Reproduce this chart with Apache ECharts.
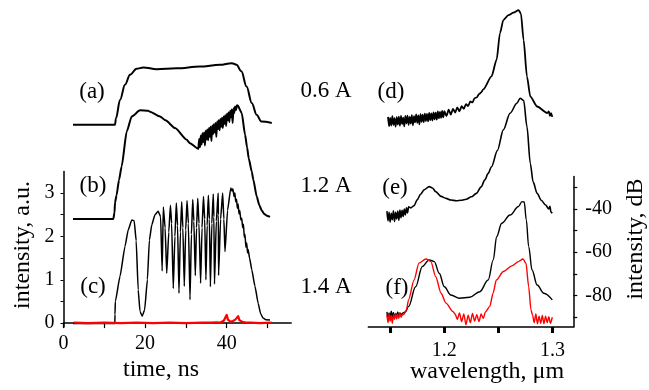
<!DOCTYPE html>
<html>
<head>
<meta charset="utf-8">
<script src="https://cdn.jsdelivr.net/npm/echarts@6/dist/echarts.min.js"></script>
<style>html,body{margin:0;padding:0;background:#fff}#c{width:649px;height:390px}</style>
</head>
<body>
<div id="c"></div>
<script>
// ---- time-domain traces (time ns, intensity a.u. with vertical offsets as drawn) ----
const traceA = [[2.33,4.58],[12.62,4.58],[12.87,4.73],[13.85,5.15],[15.07,5.50],[16.3,5.73],[17.91,5.87],[19.58,5.90],[22.81,5.86],[27.71,5.88],[33.45,5.92],[38.35,5.96],[41.24,6.0],[42.41,5.96],[43.59,5.81],[44.86,5.46],[46.14,5.08],[47.31,4.81],[48.49,4.65],[51.04,4.62]];
const traceB = [[2.33,2.40],[12.2,2.40],[12.5,2.55],[12.62,2.78],[13.0,2.95],[13.6,3.3],[14.26,3.62],[15.49,4.42],[16.72,4.77],[18.75,4.91],[20.78,4.90],[21.2,4.88],[23.65,4.77],[25.0,4.68],[27.33,4.5],[30.2,4.23],[31.0,4.15],[33.04,4.02],
 [33.25,4.25],[33.45,4.06],[33.65,4.33],[33.85,4.12],[34.05,4.38],[34.25,4.18],[34.45,4.4],[34.65,4.1],[34.85,4.44],[35.05,4.24],[35.25,4.47],[35.45,4.22],[35.65,4.5],[35.85,4.3],[36.05,4.53],[36.25,4.2],[36.45,4.56],[36.65,4.36],[36.85,4.59],[37.05,4.4],[37.25,4.62],[37.45,4.3],[37.65,4.65],[37.85,4.48],[38.05,4.68],[38.25,4.45],[38.45,4.71],[38.65,4.53],[38.85,4.74],[39.05,4.5],[39.25,4.77],[39.45,4.6],[39.65,4.8],[39.85,4.55],[40.05,4.83],[40.25,4.68],[40.45,4.86],[40.65,4.64],[40.85,4.9],[41.05,4.75],[41.25,4.93],[41.45,4.62],[41.65,4.96],[41.85,4.85],[42.05,5.0],[42.3,4.92],[42.5,5.03],[42.7,5.02],
 [43.68,4.85],[44.49,4.35],[45.0,4.05],[45.4,3.8],[46.13,3.5],[46.52,3.31],[47.35,2.92],[48.0,2.72],[48.58,2.6],[49.2,2.52],[49.8,2.48],[50.61,2.45]];
const traceC = [[2.33,-0.01],[12.58,-0.01],[12.62,0.2],[12.7,0.5],[13.85,1.08],[15.07,1.77],[15.85,2.15],[16.74,2.38],[17.32,2.36],[17.81,1.9],[18.3,0.77],[18.75,0.27],[19.28,0.16],[19.87,0.3],[20.56,1.0],[21.05,1.92],[21.64,2.27],[22.42,2.5],[23.2,2.58],[23.79,2.46],[24.18,1.2],
 [24.46,2.68],[24.9,2.2],[25.3,1.15],[25.8,2.1],[26.2,2.72],[26.5,2.3],[26.9,0.8],[27.3,2.0],[27.65,2.77],[27.95,2.25],[28.3,0.69],[28.65,2.1],[28.97,2.8],[29.25,2.2],[29.6,0.85],[29.95,2.15],[30.27,2.83],[30.6,2.3],[31.0,0.54],[31.35,2.05],[31.67,2.85],[31.95,2.35],[32.3,1.1],[32.6,2.2],[32.9,2.88],[33.2,2.3],[33.6,0.92],[33.95,2.2],[34.3,2.92],[34.6,2.4],[34.9,1.0],[35.2,2.25],[35.5,2.95],[35.75,2.4],[36.0,0.84],[36.35,2.3],[36.7,2.98],[36.85,2.45],[37.0,0.9],[37.45,2.35],[37.9,3.0],[37.95,2.5],[38.0,1.1],[38.5,2.4],[39.0,3.0],[39.3,2.4],[39.58,1.65],[40.2,2.6],[41.0,3.12],
 [41.3,3.05],[41.5,3.1],[41.8,2.92],[42.0,3.0],[42.2,2.8],[42.41,2.86],[42.6,2.65],[42.8,2.75],[43.0,2.52],[43.2,2.6],[43.45,2.38],[43.69,2.42],[43.9,2.2],[44.1,2.28],[44.3,1.98],[44.47,2.05],[44.7,1.75],[44.9,1.85],[45.1,1.62],[45.25,1.7],[45.6,1.5],[46.14,1.23],[46.92,0.85],[47.7,0.46],[48.3,0.22],[48.88,0.12],[49.6,0.08],[50.6,0.07]];
const traceCRed = [[2.5,0.01],[6,0.0],[10,0.01],[14,0.0],[18,0.01],[22,0.0],[26,0.01],[30,0.0],[34,0.01],[36,0.01],[37.5,0.02],[37.9,0.06],[38.2,0.01],[38.8,0.03],[39.3,0.06],[39.7,0.1],[40.0,0.19],[40.3,0.08],[40.6,0.1],[40.9,0.03],[41.5,0.05],[42.1,0.08],[42.5,0.12],[42.8,0.16],[43.1,0.07],[43.4,0.1],[43.8,0.03],[44.5,0.02],[46,0.01],[48,0.0],[51,0.01]];

// ---- spectra (wavelength um, dB with vertical offsets as drawn) ----
const specD = [[1.148,2.5],[1.149,-1.8],[1.150,2.0],[1.151,-1.5],[1.152,2.8],[1.153,-1.2],[1.154,1.9],[1.155,-2.0],[1.156,2.4],[1.157,-1.0],[1.158,2.6],[1.159,-1.6],[1.160,3.0],[1.161,-0.8],[1.162,2.2],[1.163,-1.9],[1.164,2.9],[1.165,-0.5],[1.166,3.1],[1.167,-1.2],[1.168,2.5],[1.169,-0.6],[1.170,3.3],[1.171,-1.4],[1.172,2.8],[1.173,0.0],[1.174,3.6],[1.175,-0.3],[1.176,3.2],[1.177,-0.9],[1.178,3.8],[1.179,0.2],[1.180,3.5],[1.181,0.0],[1.182,4.0],[1.183,0.6],[1.184,3.9],[1.185,0.4],[1.186,4.3],[1.187,1.0],[1.188,4.1],[1.189,0.8],[1.190,4.6],[1.191,1.4],[1.192,4.5],[1.193,1.2],[1.194,5.0],[1.195,1.9],[1.196,4.8],[1.197,2.0],[1.198,5.3],[1.199,2.3],[1.200,5.1],[1.202,2.9],[1.204,5.8],[1.206,3.6],[1.208,6.2],[1.210,4.5],[1.212,6.9],[1.214,5.1],[1.216,7.4],[1.218,6.2],[1.220,8.4],[1.222,7.5],[1.224,9.6],[1.226,9.2],[1.228,11.2],[1.230,11.5],[1.232,13.0],[1.234,13.8],[1.236,15.2],
 [1.2436,21.2],[1.2483,28.9],[1.2514,41.2],[1.2545,47.2],[1.2592,49.5],[1.2638,50.6],[1.2685,51.8],[1.2707,50.3],[1.2732,38],[1.2763,21.2],[1.2794,11.9],[1.2857,7.3],[1.295,4.3],[1.2965,5.0],[1.2975,3.0],[1.2985,4.2],[1.2997,2.5]];
const specE = [[1.147,-41.0],[1.148,-45.5],[1.149,-41.5],[1.150,-46.0],[1.151,-42.0],[1.152,-45.0],[1.153,-40.8],[1.154,-45.8],[1.155,-41.6],[1.156,-44.6],[1.157,-41.0],[1.158,-45.2],[1.159,-40.5],[1.160,-44.0],[1.161,-40.6],[1.162,-43.5],[1.163,-40.0],[1.164,-42.8],[1.165,-39.5],[1.166,-41.8],[1.167,-39.0],[1.169,-39.5],
 [1.172,-38.5],[1.175,-35.8],[1.178,-33.2],[1.1813,-31.2],[1.186,-29.7],[1.189,-30.3],[1.192,-32.0],[1.197,-34.2],[1.2016,-35.1],[1.206,-35.9],[1.211,-36.2],[1.2156,-36.0],[1.2203,-35.5],[1.225,-34.4],[1.2296,-32.8],[1.234,-29.8],[1.2374,-26.6],[1.2405,-23.6],[1.2436,-20.5],[1.249,-13],[1.2545,-3.5],[1.2607,4.2],[1.267,8.8],[1.27,11.1],[1.2733,10],[1.2763,-2],[1.2794,-19],[1.282,-27.5],[1.2857,-32.8],[1.2895,-36],[1.2935,-38.2],[1.2965,-40],[1.2975,-38.8],[1.2985,-41.5],[1.2997,-42]];
const specFBlack = [[1.147,-87.5],[1.148,-90.5],[1.149,-88.0],[1.150,-90.0],[1.151,-87.2],[1.152,-89.8],[1.153,-87.8],[1.154,-90.2],[1.155,-88.2],[1.156,-89.5],[1.157,-87.6],[1.158,-89.4],[1.159,-88.0],[1.160,-88.8],[1.162,-88.0],[1.164,-87.5],[1.167,-85],[1.1735,-75.9],[1.1797,-66.6],[1.186,-63.5],[1.1907,-64.3],[1.1953,-69.7],[1.2,-75.9],[1.206,-79.7],[1.214,-81.2],[1.2234,-80.8],[1.2327,-78.2],[1.2405,-72.8],[1.2452,-63.5],[1.2483,-52.8],[1.253,-46.6],[1.2607,-42.8],[1.2685,-38.9],[1.2717,-36.6],[1.2738,-36.8],[1.2757,-45.1],[1.2779,-57.4],[1.281,-68.2],[1.2857,-75.1],[1.2919,-78.9],[1.2997,-82]];
const specFRed = [[1.147,-89],[1.148,-92.5],[1.149,-88.5],[1.150,-91.8],[1.151,-89.2],[1.152,-92.8],[1.153,-88.8],[1.154,-91.0],[1.155,-88.2],[1.156,-90.8],[1.157,-88.6],[1.158,-90.5],[1.159,-88.0],[1.160,-90.0],[1.161,-89.0],[1.163,-88.5],[1.165,-86.5],[1.167,-82],[1.172,-72.8],[1.1766,-65],[1.183,-63.1],[1.1876,-64.3],[1.192,-71.2],[1.197,-78.9],[1.2016,-83.5],[1.208,-87.4],
 [1.21,-88.5],[1.212,-91],[1.214,-88],[1.216,-92],[1.218,-88.5],[1.220,-93.5],[1.222,-89],[1.224,-92.5],[1.226,-88.2],[1.228,-91.8],[1.230,-88.8],[1.232,-92],[1.234,-88.5],[1.236,-90.5],[1.238,-87.5],[1.242,-85],[1.245,-78.9],[1.248,-72.8],[1.2545,-68.9],[1.2623,-66.3],[1.2685,-64.3],[1.2726,-63.1],[1.2754,-65.1],[1.2779,-75.9],[1.280,-86.6],
 [1.2815,-89],[1.283,-92.5],[1.2845,-88.5],[1.286,-93],[1.2875,-89.5],[1.289,-92.8],[1.2905,-89.2],[1.292,-93],[1.2935,-89.5],[1.295,-92.5],[1.2965,-89.8],[1.298,-92.8],[1.2997,-90]];

// ---- ticks and labels ----
const timeTicks = [0,10,20,30,40,50];
const timeLabels = [0,20,40];
const auTicks = [0,0.5,1,1.5,2,2.5,3];
const auLabels = [0,1,2,3];
const wlTicks = [1.15,1.2,1.25,1.3];
const wlLabels = [1.2,1.3];
const dbTicks = [-90,-80,-70,-60,-50,-40,-30];
const dbLabels = [-80,-60,-40];
const panelLabels = ['(a)','(b)','(c)','(d)','(e)','(f)'];
const currentLabels = ['0.6 A','1.2 A','1.4 A'];

const FONT = '"Liberation Serif","Times New Roman",serif';
const chart = echarts.init(document.getElementById('c'), null, {renderer:'canvas'});
const axLine = {show:true, lineStyle:{color:'#000', width:1.5}};
const lab = (vals, extra) => Object.assign({customValues: vals, color:'#000', fontSize:20, fontFamily:FONT}, extra||{});
const hidden = (min,max,gi) => ({type:'value', gridIndex:gi, min:min, max:max, show:false});

const line = (data, xi, color, w, sm) => ({type:'line', data:data, xAxisIndex:xi, yAxisIndex:xi, showSymbol:false, symbol:'none', clip:false,
  smooth: sm||0, smoothMonotone:'x',
  lineStyle:{color:color, width:w, join:'round'}, itemStyle:{color:color}, animation:false, silent:true});

function txt(t, x, y, size, rot){
  return {type:'text', x:x, y:y, rotation: rot||0, silent:true,
    style:{text:t, fill:'#000', font: size+'px '+FONT, align:'center', verticalAlign:'middle'}};
}

chart.setOption({
  animation:false,
  backgroundColor:'#fff',
  grid:[
    {left:63.5, top:171.4, width:227.7, height:155.6},
    {left:63.5, top:45.8, width:227.7, height:281.2},
    {left:368.3, top:176.4, width:205, height:150.6},
    {left:368.3, top:1, width:205, height:326}
  ],
  xAxis:[
    {type:'value', gridIndex:0, min:0, max:55.8, splitLine:{show:false}, axisLine:axLine,
      axisTick:{show:true, customValues:timeTicks, length:5, lineStyle:{color:'#000', width:1.2}},
      axisLabel:lab(timeLabels,{margin:7})},
    hidden(0,55.8,1),
    {type:'value', gridIndex:2, min:1.1298, max:1.3191, splitLine:{show:false}, axisLine:axLine,
      axisTick:{show:true, customValues:wlTicks, length:6, lineStyle:{color:'#000', width:3}},
      axisLabel:lab(wlLabels,{margin:14, formatter:v=>v.toFixed(1)})},
    hidden(1.1298,1.3191,3)
  ],
  yAxis:[
    {type:'value', gridIndex:0, min:-0.09, max:3.5, splitLine:{show:false}, axisLine:axLine,
      axisTick:{show:true, customValues:auTicks, length:3, lineStyle:{color:'#000', width:1}},
      axisLabel:lab(auLabels,{margin:9})},
    hidden(-0.09,6.4,1),
    {type:'value', gridIndex:2, position:'right', min:-94.5, max:-25, splitLine:{show:false}, axisLine:axLine,
      axisTick:{show:true, customValues:dbTicks, length:4, lineStyle:{color:'#000', width:1.2}},
      axisLabel:lab(dbLabels,{margin:12})},
    hidden(-94.5,56,3)
  ],
  series:[
    line(traceA,1,'#000',2,0.35),
    line(traceB,1,'#000',2,0.2),
    line(traceC,1,'#000',1.5,0.15),
    line(traceCRed,1,'#ff0000',2.2,0),
    line(specD,3,'#000',1.8,0.25),
    line(specE,3,'#000',1.6,0.3),
    line(specFBlack,3,'#000',1.4,0.35),
    line(specFRed,3,'#ff0000',1.4,0.25)
  ],
  graphic:[
    txt(panelLabels[0],92,92,23), txt(panelLabels[1],93,186,23), txt(panelLabels[2],93,287,23),
    txt(panelLabels[3],391,92,23), txt(panelLabels[4],395,188,23), txt(panelLabels[5],397,288,23),
    txt(currentLabels[0],326,91,23), txt(currentLabels[1],326,186,23), txt(currentLabels[2],326,287,23),
    txt('time, ns',161,370,24), txt('wavelength, \u03bcm',487,372,24),
    txt('intensity, a.u.',23,245,24,Math.PI/2), txt('intensity, dB',636,239,24,Math.PI/2)
  ]
});
</script>
</body>
</html>
